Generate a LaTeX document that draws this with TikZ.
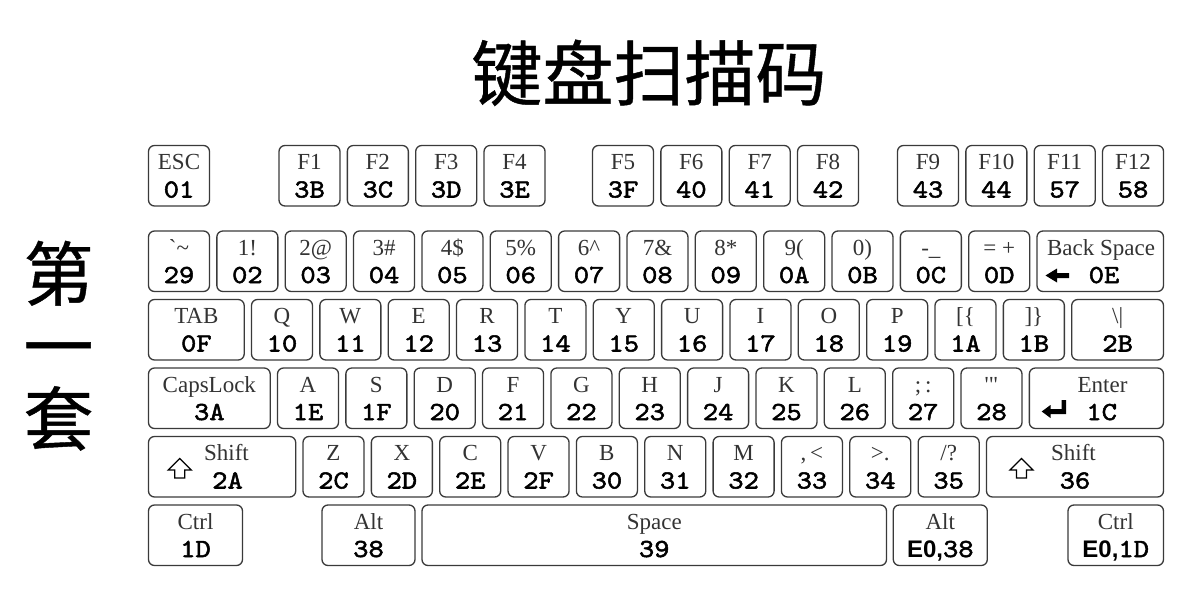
\documentclass[tikz,border=0pt]{standalone}
\usepackage{fontspec}
\newfontfamily\lblfont{Liberation Serif}
\newfontfamily\cjk[FakeBold=0.6]{Noto Sans CJK SC}
\newfontfamily\codefont[Extension=.otf,FakeStretch=1.12,FakeBold=2]{lmmono10-regular}
\newfontfamily\sanscode{Liberation Sans}
\definecolor{keyline}{HTML}{3A3A3A}
\definecolor{lblgray}{HTML}{333333}
\tikzset{
  keybox/.style={draw=keyline, line width=1.3pt, rounded corners=6pt, minimum height=60.5pt, inner sep=0pt},
  lbl/.style={font=\lblfont\fontsize{23}{23}\selectfont, text=lblgray, anchor=base, inner sep=0pt},
  codetxt/.style={font=\codefont\fontsize{26}{26}\selectfont, text=black, anchor=base, inner sep=0pt},
  hollowicon/.style={draw=black, line width=1.3pt, line join=miter},
  solidicon/.style={fill=black, draw=none},
  bigcjk/.style={font=\cjk\fontsize{71}{71}\selectfont, anchor=base, inner sep=0pt},
  sidecjk/.style={font=\cjk\fontsize{70}{70}\selectfont, anchor=base, inner sep=0pt}
}
\newcommand\wk[6]{%
  \pgfmathsetmacro\kxa{#2}\pgfmathsetmacro\kxb{#3}%
  \pgfmathsetmacro\kx{(\kxa+\kxb)/2}\pgfmathsetmacro\kw{\kxb-\kxa}%
  \node[keybox,minimum width=\kw pt] (#1) at (\kx,#4+30.25) {};
  \node[lbl] (#1t) at (\kx,#4+24) {#5};
  \node[codetxt] (#1c) at (\kx,#4+52) {#6};}
\newcommand\kk[5]{\wk{#1}{#2}{#2+61}{#3}{#4}{#5}}
\newcommand\bx[4]{%
  \pgfmathsetmacro\kxa{#2}\pgfmathsetmacro\kxb{#3}%
  \pgfmathsetmacro\kx{(\kxa+\kxb)/2}\pgfmathsetmacro\kw{\kxb-\kxa}%
  \node[keybox,minimum width=\kw pt] (#1) at (\kx,#4+30.25) {};}
\begin{document}
\begin{tikzpicture}[x=1pt,y=-1pt]
\useasboundingbox (0,0) rectangle (1195,607);
% titles
\node[bigcjk] (title) at (649,100) {键盘扫描码};
\node[sidecjk] (s1) at (58.5,300) {第};
\node[sidecjk] (s2) at (58.5,372.5) {一};
\node[sidecjk] (s3) at (58.5,445) {套};
% row 0
\kk{k01}{148.5}{145.5}{ESC}{01}
\kk{k3B}{279}{145.5}{F1}{3B}
\kk{k3C}{347.35}{145.5}{F2}{3C}
\kk{k3D}{415.7}{145.5}{F3}{3D}
\kk{k3E}{484.05}{145.5}{F4}{3E}
\kk{k3F}{592.5}{145.5}{F5}{3F}
\kk{k40}{660.85}{145.5}{F6}{40}
\kk{k41}{729.2}{145.5}{F7}{41}
\kk{k42}{797.55}{145.5}{F8}{42}
\kk{k43}{897.5}{145.5}{F9}{43}
\kk{k44}{965.85}{145.5}{F10}{44}
\kk{k57}{1034.2}{145.5}{F11}{57}
\kk{k58}{1102.55}{145.5}{F12}{58}
% row 1
\kk{k29}{148.5}{231}{`\textasciitilde}{29}
\kk{k02}{216.85}{231}{1!}{02}
\kk{k03}{285.2}{231}{2@}{03}
\kk{k04}{353.55}{231}{3\#}{04}
\kk{k05}{421.9}{231}{4\$}{05}
\kk{k06}{490.25}{231}{5\%}{06}
\kk{k07}{558.6}{231}{6\textasciicircum}{07}
\kk{k08}{626.95}{231}{7\&}{08}
\kk{k09}{695.3}{231}{8*}{09}
\kk{k0A}{763.65}{231}{9(}{0A}
\kk{k0B}{832.0}{231}{0)}{0B}
\kk{k0C}{900.35}{231}{-\_}{0C}
\kk{k0D}{968.7}{231}{= +}{0D}
\bx{k0E}{1037}{1163.5}{231}
\node[lbl] (k0Et) at (1101,255) {Back Space};
\node[codetxt] (k0Ec) at (1104,283) {0E};
\fill[solidicon] (1045.5,275.5) -- (1057,268.5) -- (1057,273) -- (1069,273) -- (1069,278) -- (1057,278) -- (1057,282.5) -- cycle;
% row 2
\wk{k0F}{148.5}{244.2}{299.5}{TAB}{0F}
\kk{k10}{251.5}{299.5}{Q}{10}
\kk{k11}{319.85}{299.5}{W}{11}
\kk{k12}{388.2}{299.5}{E}{12}
\kk{k13}{456.55}{299.5}{R}{13}
\kk{k14}{524.9}{299.5}{T}{14}
\kk{k15}{593.25}{299.5}{Y}{15}
\kk{k16}{661.6}{299.5}{U}{16}
\kk{k17}{729.95}{299.5}{I}{17}
\kk{k18}{798.3}{299.5}{O}{18}
\kk{k19}{866.65}{299.5}{P}{19}
\kk{k1A}{935.0}{299.5}{[\{}{1A}
\kk{k1B}{1003.35}{299.5}{]\}}{1B}
\wk{k2B}{1071.7}{1163.5}{299.5}{\textbackslash|}{2B}
% row 3
\wk{k3A}{148.5}{270.2}{368}{CapsLock}{3A}
\kk{k1E}{277.5}{368}{A}{1E}
\kk{k1F}{345.85}{368}{S}{1F}
\kk{k20}{414.2}{368}{D}{20}
\kk{k21}{482.55}{368}{F}{21}
\kk{k22}{550.9}{368}{G}{22}
\kk{k23}{619.25}{368}{H}{23}
\kk{k24}{687.6}{368}{J}{24}
\kk{k25}{755.95}{368}{K}{25}
\kk{k26}{824.3}{368}{L}{26}
\kk{k27}{892.65}{368}{;\,:}{27}
\kk{k28}{961.0}{368}{'"}{28}
\bx{k1C}{1029.35}{1163.5}{368}
\node[lbl] (k1Ct) at (1102.5,392) {Enter};
\node[codetxt] (k1Cc) at (1101.7,420) {1C};
\fill[solidicon] (1041.7,411.5) -- (1050.5,405) -- (1050.5,409) -- (1061.5,409) -- (1061.5,400) -- (1066,400) -- (1066,414) -- (1050.5,414) -- (1050.5,418) -- cycle;
% row 4
\bx{k2A}{148.5}{295.7}{436.5}
\node[lbl] (k2At) at (226.5,460.5) {Shift};
\node[codetxt] (k2Ac) at (227.5,488.5) {2A};
\draw[hollowicon] (179.7,458.5) -- (191.2,470) -- (184.7,470) -- (184.7,478) -- (174.7,478) -- (174.7,470) -- (168.2,470) -- cycle;
\kk{k2C}{303}{436.5}{Z}{2C}
\kk{k2D}{371.35}{436.5}{X}{2D}
\kk{k2E}{439.7}{436.5}{C}{2E}
\kk{k2F}{508.05}{436.5}{V}{2F}
\kk{k30}{576.4}{436.5}{B}{30}
\kk{k31}{644.75}{436.5}{N}{31}
\kk{k32}{713.1}{436.5}{M}{32}
\kk{k33}{781.45}{436.5}{,\,<}{33}
\kk{k34}{849.8}{436.5}{>.}{34}
\kk{k35}{918.15}{436.5}{/?}{35}
\bx{k36}{986.5}{1163.5}{436.5}
\node[lbl] (k36t) at (1073.5,460.5) {Shift};
\node[codetxt] (k36c) at (1075,488.5) {36};
\draw[hollowicon] (1021.5,458.5) -- (1033,470) -- (1026.5,470) -- (1026.5,478) -- (1016.5,478) -- (1016.5,470) -- (1010,470) -- cycle;
% row 5
\wk{lctrl}{148.5}{242.5}{505}{Ctrl}{1D}
\wk{lalt}{322}{415}{505}{Alt}{38}
\wk{k39}{422}{886.5}{505}{Space}{39}
\wk{ralt}{893.3}{987.3}{505}{Alt}{{\sanscode\bfseries\fontsize{24}{24}\selectfont E0,}38}
\wk{rctrl}{1068}{1163.5}{505}{Ctrl}{{\sanscode\bfseries\fontsize{24}{24}\selectfont E0,}1D}
\end{tikzpicture}
\end{document}
